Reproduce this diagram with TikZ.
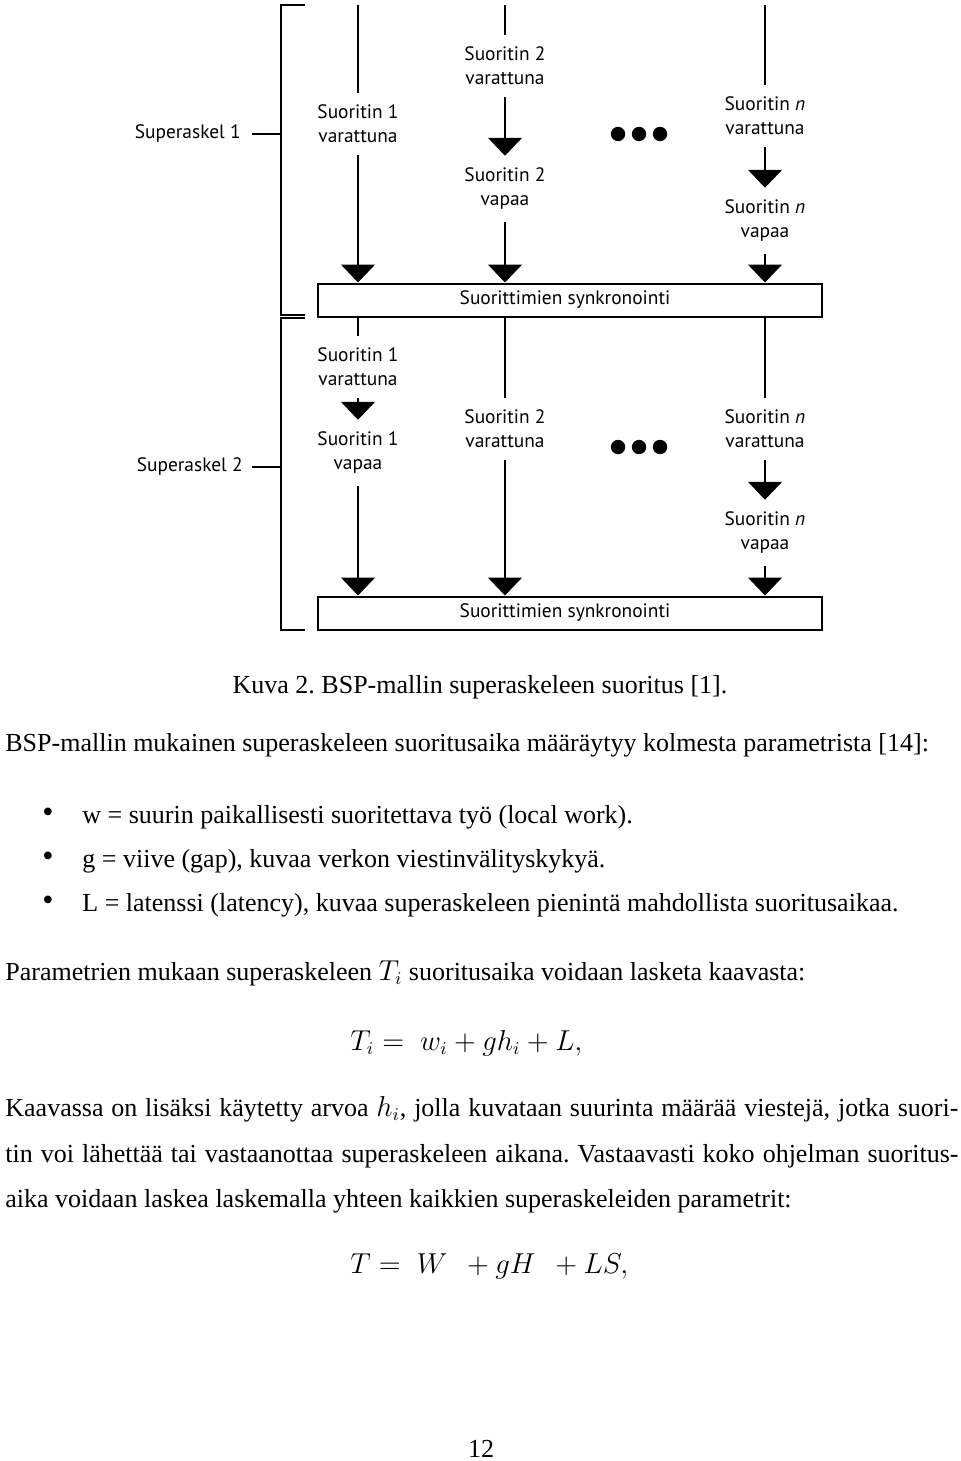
\documentclass[tikz,border=0pt]{standalone}
\usepackage{fontspec}
\usepackage{amsmath}
\setmainfont{Liberation Serif}
\newfontfamily\diagfont{PT Sans}
\usetikzlibrary{arrows.meta}
\frenchspacing

\begin{document}
\begin{tikzpicture}[x=0.5pt, y=-0.5pt,
    lbl/.style={font=\diagfont\fontsize{9.7}{12}\selectfont, align=center, inner sep=6pt},
    ln/.style={line width=0.8pt},
    arr/.style={line width=0.8pt, -{Triangle[width=17pt,length=9pt]}},
    sync/.style={draw, line width=1pt, minimum width=252pt, minimum height=16.5pt,
      inner sep=0pt, font=\diagfont\fontsize{9.7}{12}\selectfont},
    txt/.style={font=\fontsize{13}{15}\selectfont, inner sep=0pt, anchor=base west},
    eqn/.style={font=\fontsize{13.4}{16}\selectfont, inner sep=0pt, anchor=base west}]

  \useasboundingbox (0,0) rectangle (960,1461);

  % superaskel 1
  \node[sync] (s1) at (570,300) {\hspace*{-5pt}Suorittimien synkronointi};
  \coordinate (t1) at (358,5);
  \coordinate (t2) at (505,5);
  \coordinate (tn) at (765,5);
  \node[lbl] (p1v) at (358,124) {Suoritin 1\\varattuna};
  \node[lbl] (p2v) at (505,66) {Suoritin 2\\varattuna};
  \node[lbl] (p2f) at (505,189) {Suoritin 2\\vapaa};
  \node[lbl] (pnv) at (765,116) {Suoritin \textit{n}\\varattuna};
  \node[lbl] (pnf) at (765,221) {Suoritin \textit{n}\\vapaa};

  \draw[ln] (t1) -- (p1v);
  \draw[arr] (p1v) -- (p1v |- s1.north);
  \draw[ln] (t2) -- (p2v);
  \draw[arr] (p2v) -- (p2f);
  \draw[arr] (p2f) -- (p2f |- s1.north);
  \draw[ln] (tn) -- (pnv);
  \draw[arr] (pnv) -- (pnf);
  \draw[arr] (pnf) -- (pnf |- s1.north);

  % superaskel 2
  \node[sync] (s2) at (570,613) {\hspace*{-5pt}Suorittimien synkronointi};
  \node[lbl] (q1v) at (358,367) {Suoritin 1\\varattuna};
  \node[lbl] (q1f) at (358,453) {Suoritin 1\\vapaa};
  \node[lbl] (q2v) at (505,429) {Suoritin 2\\varattuna};
  \node[lbl] (qnv) at (765,429) {Suoritin \textit{n}\\varattuna};
  \node[lbl] (qnf) at (765,533) {Suoritin \textit{n}\\vapaa};

  \draw[ln] (q1v |- s1.south) -- (q1v);
  \draw[arr] (q1v) -- (q1f);
  \draw[arr] (q1f) -- (q1f |- s2.north);
  \draw[ln] (q2v |- s1.south) -- (q2v);
  \draw[arr] (q2v) -- (q2v |- s2.north);
  \draw[ln] (qnv |- s1.south) -- (qnv);
  \draw[arr] (qnv) -- (qnf);
  \draw[arr] (qnf) -- (qnf |- s2.north);

  \foreach \x in {618,639,660} {
    \fill (\x,134) circle (3.6pt);
    \fill (\x,447) circle (3.6pt);
  }

  % sulut
  \draw[ln] (305,5) -- (281,5) -- (281,315) -- (305,315);
  \draw[ln] (305,318) -- (281,318) -- (281,630) -- (305,630);
  \coordinate (b1) at (281,134);
  \coordinate (b2) at (281,467);
  \node[lbl, anchor=east, inner sep=0pt] (sa1) at (241,134) {Superaskel 1};
  \node[lbl, anchor=east, inner sep=0pt] (sa2) at (243,467) {Superaskel 2};
  \draw[ln] (sa1.east) ++(11,0) -- (b1);
  \draw[ln] (sa2.east) ++(9,0) -- (b2);

  % teksti
  \node[txt, anchor=base] (cap) at (480,693) {Kuva 2. BSP-mallin superaskeleen suoritus [1].};
  \node[txt] (par1) at (5,751) {BSP-mallin mukainen superaskeleen suoritusaika määräytyy kolmesta parametrista [14]:};
  \node[txt, anchor=center] (d1) at (48,815) {\fontsize{16}{16}\selectfont\textbullet};
  \node[txt, anchor=center] (d2) at (48,859) {\fontsize{16}{16}\selectfont\textbullet};
  \node[txt, anchor=center] (d3) at (48,903) {\fontsize{16}{16}\selectfont\textbullet};
  \node[txt] (w) at (82,823) {w = suurin paikallisesti suoritettava työ (local work).};
  \node[txt] (g) at (82,867) {g = viive (gap), kuvaa verkon viestinvälityskykyä.};
  \node[txt] (L) at (82,911) {L = latenssi (latency), kuvaa superaskeleen pienintä mahdollista suoritusaikaa.};
  \node[txt] (par2) at (5,980) {Parametrien mukaan superaskeleen {\fontsize{13.4}{15}\selectfont$T_i$} suoritusaika voidaan lasketa kaavasta:};
  \node[eqn] (eq1) at (350,1050) {$T_i =\; w_i + gh_i + L,$};
  \node[txt] (par3) at (5,1116) {\makebox[476.5pt][s]{Kaavassa on lisäksi käytetty arvoa {\fontsize{13.4}{15}\selectfont$h_i$}, jolla kuvataan suurinta määrää viestejä, jotka suori-}};
  \node[txt] (par4) at (5,1162) {\makebox[476.5pt][s]{tin voi lähettää tai vastaanottaa superaskeleen aikana. Vastaavasti koko ohjelman suoritus-}};
  \node[txt] (par5) at (5,1207) {aika voidaan laskea laskemalla yhteen kaikkien superaskeleiden parametrit:};
  \node[eqn] (eq2) at (350,1273) {$T =\; W \enspace + gH \enspace + LS,$};
  \node[txt, anchor=base] (page) at (481,1457) {12};
\end{tikzpicture}
\end{document}
